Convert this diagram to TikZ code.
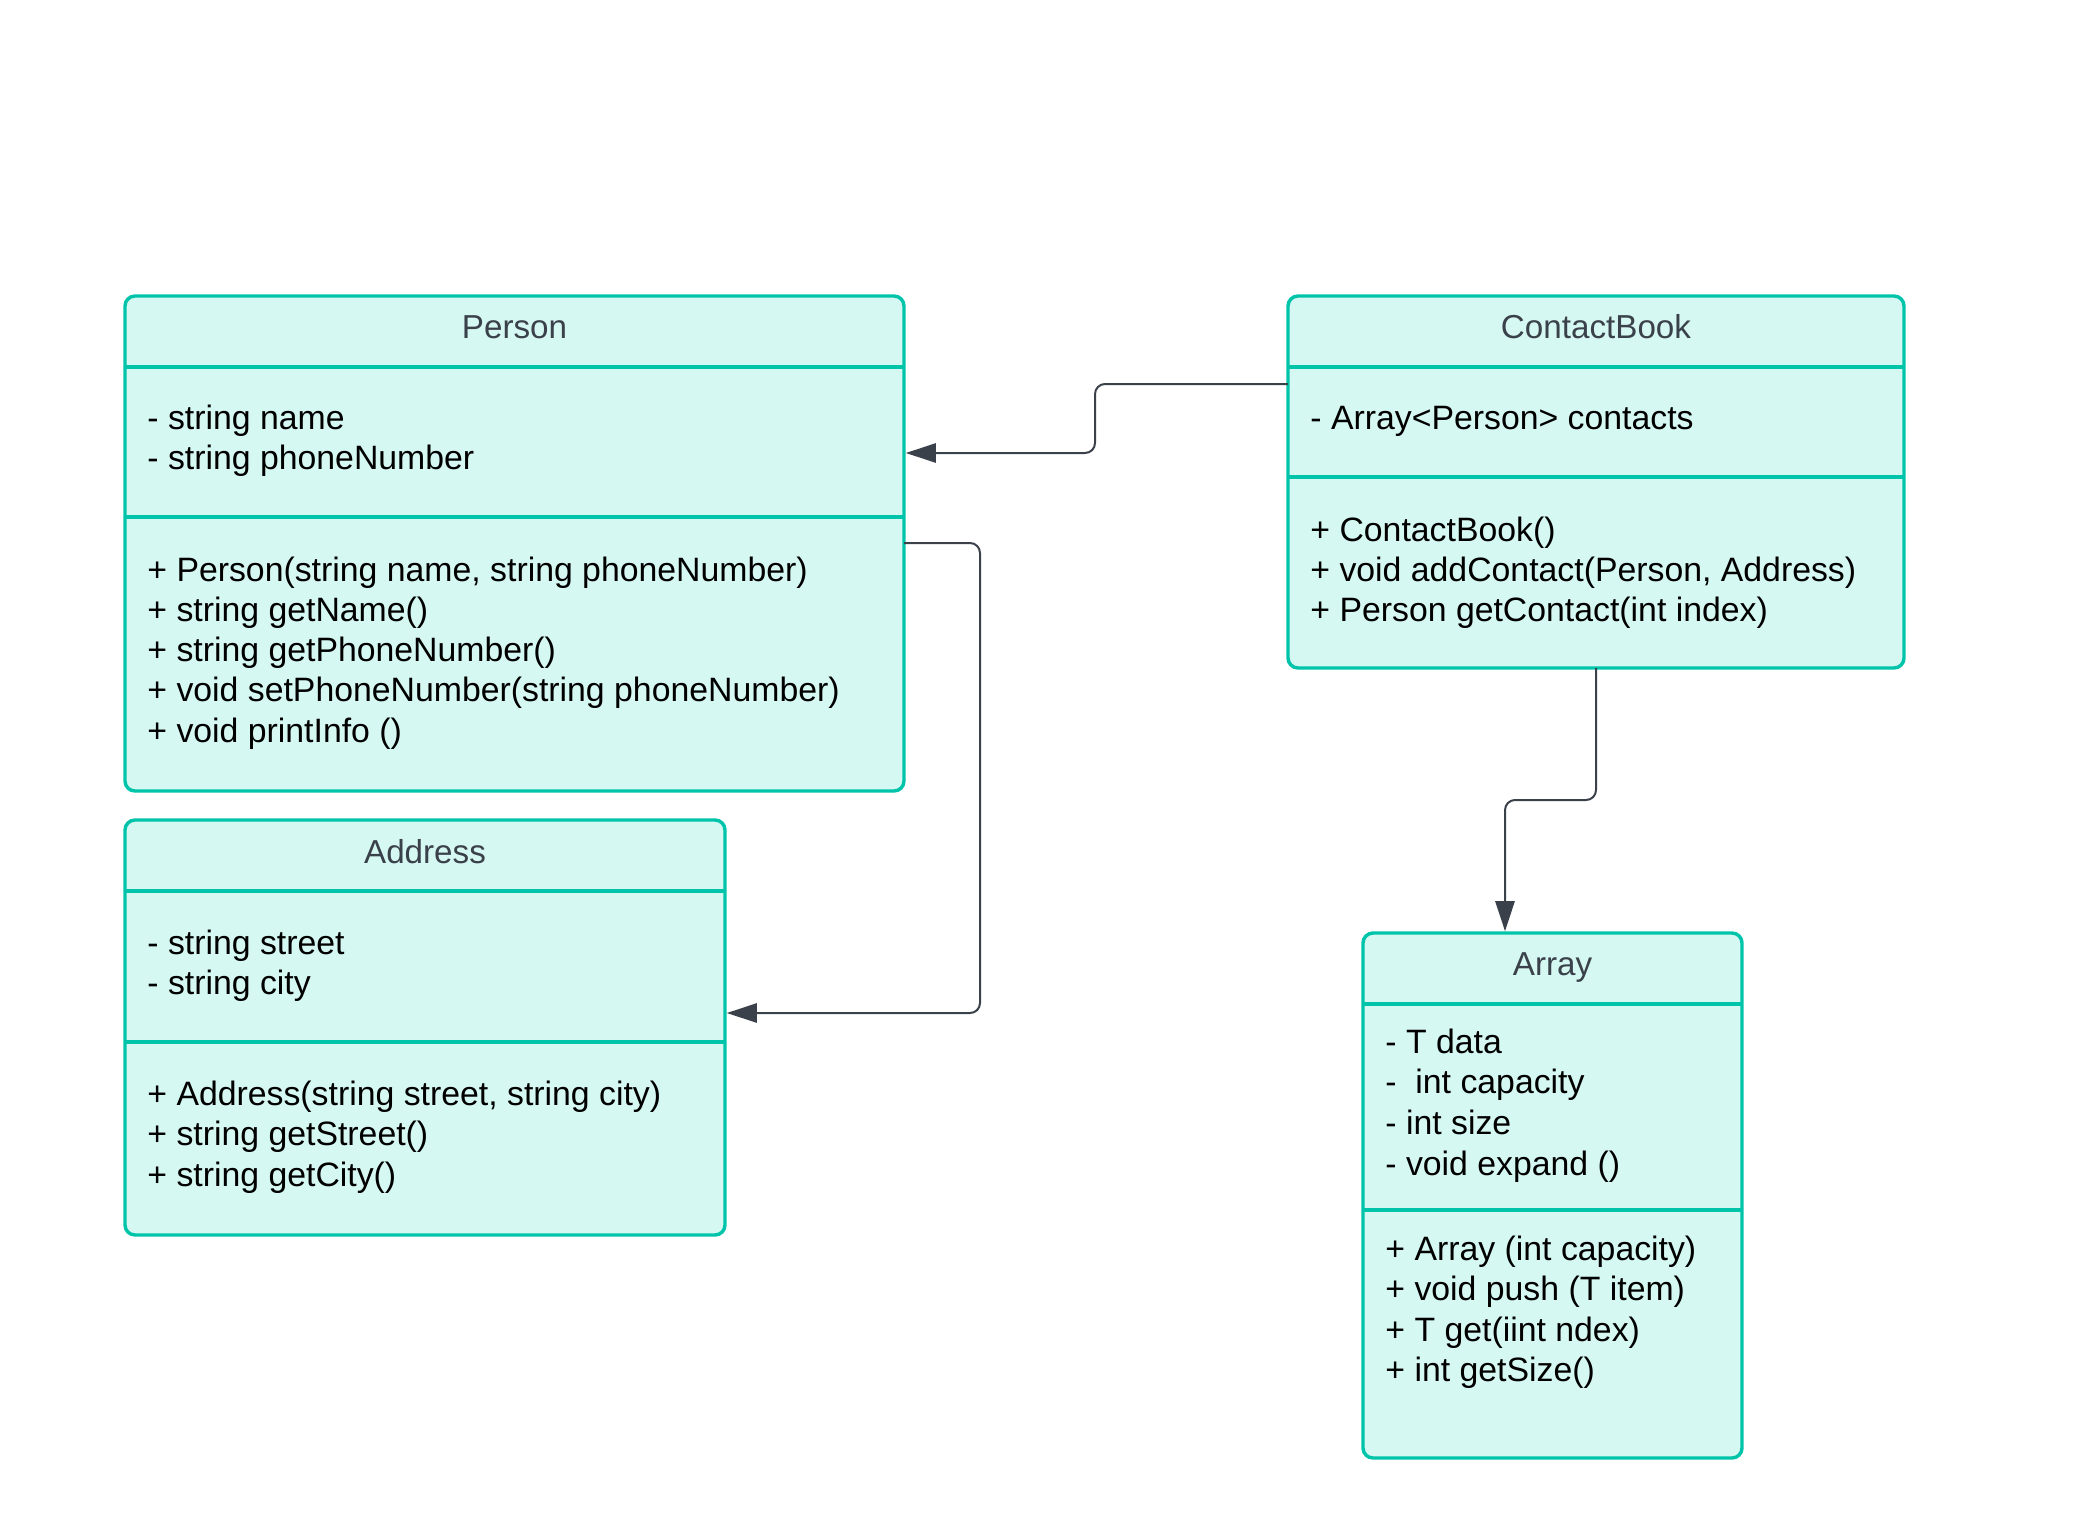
\documentclass[tikz,border=0pt]{standalone}
\usepackage{fontspec}
\setmainfont{Liberation Sans}
\usetikzlibrary{arrows.meta}
\definecolor{umlteal}{HTML}{00C4AA}
\definecolor{umlfill}{HTML}{D6F8F2}
\definecolor{umlgray}{HTML}{3A414A}
\tikzset{
  classbox/.style 2 args={draw=umlteal, fill=umlfill, line width=1.7pt, rounded corners=5pt,
    anchor=north west, inner sep=0pt, outer sep=0pt, minimum width=#1*0.5pt, minimum height=#2*0.5pt},
  divider/.style={draw=umlteal, line width=1.6pt},
  classname/.style={anchor=base, inner sep=0pt, text=umlgray, font=\fontsize{16.6}{20}\selectfont},
  member/.style={anchor=base west, inner sep=0pt, font=\fontsize{16.9}{20}\selectfont},
  assoc/.style={draw=umlgray, line width=1pt, rounded corners=5pt,
    -{Triangle[length=15pt,width=9.6pt]}, shorten >=0.9pt},
}
\begin{document}
\begin{tikzpicture}[x=0.5pt, y=-0.5pt]
\useasboundingbox (0,0) rectangle (2091,1530);
% Person
\node[classbox={779}{495}] (person) at (125,296) {};
\node[classname] (personT) at (person.north |- 0,338) {Person};
\draw[divider] (person.west |- 0,367) -- (person.east |- 0,367);
\draw[divider] (person.west |- 0,517) -- (person.east |- 0,517);
\foreach \lbl [count=\i] in {- string name, - string phoneNumber}
  \node[member] (personA\i) at (147,{429+40.3*(\i-1)}) {\lbl};
\foreach \lbl [count=\i] in {{+ Person(string name, string phoneNumber)}, + string getName(),
    + string getPhoneNumber(), + void setPhoneNumber(string phoneNumber), + void printInfo ()}
  \node[member] (personM\i) at (147,{581+40.3*(\i-1)}) {\lbl};
% Address
\node[classbox={600}{415}] (address) at (125,820) {};
\node[classname] (addressT) at (address.north |- 0,863) {Address};
\draw[divider] (address.west |- 0,891) -- (address.east |- 0,891);
\draw[divider] (address.west |- 0,1042) -- (address.east |- 0,1042);
\foreach \lbl [count=\i] in {- string street, - string city}
  \node[member] (addressA\i) at (147,{954+40.3*(\i-1)}) {\lbl};
\foreach \lbl [count=\i] in {{+ Address(string street, string city)}, + string getStreet(), + string getCity()}
  \node[member] (addressM\i) at (147,{1105+40.5*(\i-1)}) {\lbl};
% ContactBook
\node[classbox={616}{372}] (cbook) at (1288,296) {};
\node[classname] (cbookT) at (cbook.north |- 0,338) {ContactBook};
\draw[divider] (cbook.west |- 0,367) -- (cbook.east |- 0,367);
\draw[divider] (cbook.west |- 0,477) -- (cbook.east |- 0,477);
\node[member] (cbookA1) at (1310,429) {- Array<Person> contacts};
\foreach \lbl [count=\i] in {+ ContactBook(), {+ void addContact(Person, Address)}, + Person getContact(int index)}
  \node[member] (cbookM\i) at (1310,{541+40.3*(\i-1)}) {\lbl};
% Array
\node[classbox={379}{525}] (array) at (1363,933) {};
\node[classname] (arrayT) at (array.north |- 0,975) {Array};
\draw[divider] (array.west |- 0,1004) -- (array.east |- 0,1004);
\draw[divider] (array.west |- 0,1210) -- (array.east |- 0,1210);
\foreach \lbl [count=\i] in {- T data, -\ \ int capacity, - int size, - void expand ()}
  \node[member] (arrayA\i) at (1385,{1053+40.8*(\i-1)}) {\lbl};
\foreach \lbl [count=\i] in {+ Array (int capacity), + void push (T item), + T get(iint ndex), + int getSize()}
  \node[member] (arrayM\i) at (1385,{1260+40.6*(\i-1)}) {\lbl};
% associations
\draw[assoc] (cbook.west |- 0,384) -| (1095,453) -- (person.east |- 0,453);
\draw[assoc] (person.east |- 0,543) -| (980,1013) -- (address.east |- 0,1013);
\draw[assoc] (cbook.south) |- (1505,800) -- (array.north -| 1505,0);
\end{tikzpicture}
\end{document}
